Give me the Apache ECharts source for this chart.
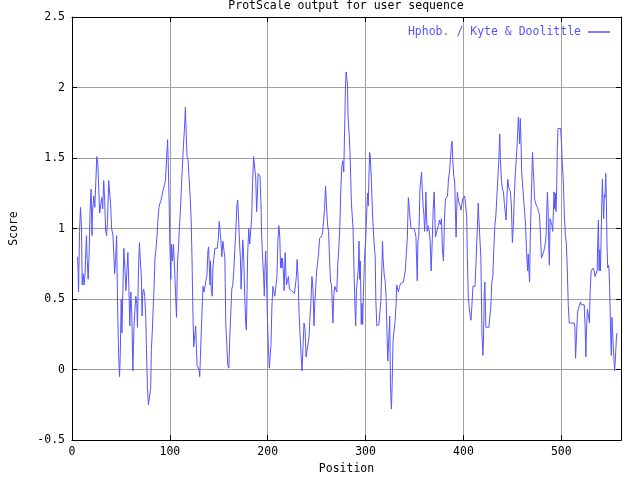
<!DOCTYPE html>
<html>
<head>
<meta charset="utf-8">
<script src="https://cdn.jsdelivr.net/npm/echarts@6/dist/echarts.min.js"></script>
<style>html,body{margin:0;padding:0;background:#fff}#c{width:640px;height:480px}</style>
</head>
<body>
<div id="c"></div>
<script>
const titleText = 'ProtScale output for user sequence';
const seriesName = 'Hphob. / Kyte & Doolittle';
const xName = 'Position';
const yName = 'Score';
const xMin = 0, xMax = 561, xStep = 100;
const yMin = -0.5, yMax = 2.5, yStep = 0.5;

const positions = [
5.7,6.3,6.7,7.7,8.7,9.7,10.4,11.4,12.4,13.4,13.8,14.8,15.5,16.5,17.5,18.5,19.5,20.5,20.9,22.2,
23.3,24.3,25.3,26.3,27.3,28.3,30.4,31.4,32.4,33.4,34.4,35.4,36.4,37.5,38.5,39.5,40.5,41.9,42.9,43.6,
44.6,45.6,46.6,47.6,48.6,49.3,50.3,51.0,52.0,53.0,54.0,55.1,56.1,57.1,58.1,59.1,60.1,61.1,62.2,63.2,
64.2,65.2,66.2,66.9,67.9,68.9,69.9,71.0,71.6,72.3,73.3,74.3,75.4,76.0,77.1,78.1,79.8,80.4,81.1,82.1,
82.8,83.8,84.8,85.9,86.9,87.9,88.9,89.9,90.9,91.9,
92.6,93.6,94.6,95.6,96.6,97.7,98.3,99.3,100.0,101.0,101.7,102.7,103.7,104.8,105.8,106.8,107.8,108.8,109.8,110.8,
111.9,112.9,113.9,114.9,115.9,116.6,117.6,118.6,119.6,120.7,121.7,122.7,123.4,124.4,125.4,126.4,127.1,127.8,128.8,129.8,
130.5,131.2,131.8,132.8,133.9,134.9,136.9,137.9,138.9,139.6,140.3,141.0,141.6,142.3,143.3,144.0,145.0,146.0,148.4,149.4,
150.4,151.5,152.1,153.1,154.2,155.2,156.2,157.2,158.2,159.2,160.3,161.3,162.3,163.3,164.3,165.3,166.3,167.4,168.4,169.4,
170.1,171.1,172.1,172.8,173.8,174.5,175.5,176.5,177.5,178.2,178.9,179.5,180.6,181.6,182.6,183.6,184.6,185.6,186.6,187.7,188.7,
189.4,190.1,191.1,192.1,193.1,193.8,194.8,195.8,196.5,197.2,197.9,198.6,199.6,200.6,201.6,202.6,203.3,204.3,205.3,206.3,
207.3,208.4,209.4,210.4,211.4,212.4,213.1,213.8,214.5,215.1,216.1,216.8,217.8,218.5,219.2,220.2,221.2,222.2,223.3,224.3,
225.3,226.3,227.3,228.3,229.3,230.0,231.0,232.1,233.1,234.1,235.1,236.1,237.1,238.1,239.2,240.2,241.2,242.2,243.2,244.2,
245.2,246.3,247.3,248.0,249.0,250.0,251.0,252.0,253.0,254.0,255.1,256.1,257.1,258.1,259.1,260.1,261.2,262.2,263.2,264.2,
265.2,265.9,266.6,267.6,268.6,269.6,270.6,271.6,272.7,273.7,274.7,275.7,276.7,277.7,278.8,279.4,280.1,280.8,281.5,282.1,
283.2,284.2,284.8,285.5,
286.2,287.2,288.2,289.2,289.9,290.6,291.6,292.6,293.3,293.9,294.6,295.6,296.3,297.0,297.7,298.7,299.4,300.0,301.0,302.0,
302.7,303.4,304.1,304.8,305.8,306.8,307.8,308.8,309.8,310.5,311.5,312.5,313.6,314.6,315.6,316.6,317.3,318.0,319.0,320.0,
321.0,322.0,322.7,323.7,324.7,325.4,326.4,327.1,328.1,329.1,330.1,331.2,331.8,332.9,333.5,334.5,335.6,336.6,337.6,338.6,
339.6,340.6,341.7,342.7,343.7,344.7,345.4,346.4,347.4,348.4,349.4,350.4,351.5,352.1,352.8,353.5,354.2,354.9,355.5,356.5,
357.2,357.9,358.9,359.6,360.3,360.9,361.6,362.3,363.0,364.0,365.0,366.0,367.0,368.2,369.1,370.1,370.8,371.4,372.4,373.5,
374.5,375.5,376.5,377.5,378.5,379.6,380.6,381.6,
382.7,383.7,384.7,385.7,386.7,387.7,388.4,389.1,390.1,391.1,391.8,392.5,393.1,393.8,394.5,395.5,396.5,397.5,398.6,399.2,
400.3,401.3,402.3,403.3,404.0,405.0,406.0,406.7,407.7,408.7,409.7,410.7,411.8,412.8,413.8,414.5,415.1,415.8,416.8,417.8,
418.9,419.9,420.6,421.2,421.9,422.9,423.9,424.9,426.0,427.0,428.0,429.0,430.0,431.0,432.1,433.1,434.1,435.1,436.1,437.1,
437.8,438.8,439.8,440.9,441.9,442.9,443.6,444.2,445.3,446.3,446.9,448.0,449.0,450.0,451.0,452.0,453.0,454.0,455.1,456.1,
456.8,457.4,458.1,458.8,459.5,460.5,461.5,462.5,463.5,464.5,465.6,466.2,466.9,467.6,468.3,
469.2,469.9,470.6,471.2,471.9,472.6,473.6,474.6,475.6,476.7,477.7,478.7,479.7,480.7,481.7,482.8,483.8,484.4,485.1,485.8,
486.5,487.1,487.8,488.5,489.2,489.9,490.5,491.2,491.9,492.6,493.2,493.9,494.6,495.3,495.9,496.6,498.0,499.3,500.3,501.0,
502.0,503.1,504.1,505.1,506.1,507.1,508.1,509.1,510.2,511.2,512.2,513.2,513.9,514.6,515.6,516.6,517.6,518.6,519.6,520.3,
521.3,522.3,523.4,524.4,525.1,525.7,526.7,527.8,528.8,529.4,530.5,531.5,532.5,533.5,534.5,535.5,536.6,537.2,537.9,538.6,
539.3,540.0,540.6,541.3,542.0,542.6,543.3,544.0,544.7,545.4,546.0,546.7,547.4,548.1,548.7,549.4,550.4,551.1,551.8,552.5,
553.1,553.8,554.5,555.2,555.8,556.5,557.2
];

const scores = [
0.80,0.69,0.55,0.98,1.15,1.01,0.60,0.68,0.60,0.68,0.78,0.95,0.78,0.64,0.82,1.13,1.28,0.95,1.11,1.23,
1.15,1.32,1.51,1.47,1.29,1.11,1.22,1.14,1.34,1.20,0.98,0.95,1.07,1.34,1.35,1.17,1.00,0.95,0.79,0.68,
0.79,0.95,0.45,0.11,-0.05,0.10,0.50,0.26,0.56,0.86,0.72,0.56,0.70,0.83,0.59,0.31,0.55,0.40,-0.01,0.28,
0.41,0.52,0.47,0.30,0.70,0.90,0.77,0.64,0.38,0.55,0.57,0.52,0.37,0.18,-0.13,-0.25,-0.25,-0.13,0.14,0.28,
0.41,0.57,0.79,0.86,0.95,1.07,1.15,1.18,1.20,1.23,
1.26,1.26,1.31,1.35,1.49,1.63,1.48,1.17,0.89,0.64,0.89,0.77,0.89,0.72,0.54,0.37,0.76,0.86,1.01,1.13,
1.31,1.45,1.59,1.71,1.86,1.69,1.51,1.49,1.36,1.23,1.08,0.77,0.46,0.16,0.17,0.31,0.17,0.03,0.03,0.00,
-0.05,0.08,0.21,0.40,0.59,0.55,0.55,0.67,0.84,0.87,0.74,0.60,0.77,0.56,0.52,0.72,0.79,0.86,0.86,0.92,
1.05,1.05,0.92,0.80,0.91,0.91,0.79,0.31,0.17,0.03,0.01,0.24,0.41,0.57,0.60,0.70,0.84,0.98,1.16,1.20,
1.09,0.91,0.79,0.57,0.76,0.92,0.79,0.52,0.33,0.28,0.56,0.82,1.00,0.89,0.90,1.08,1.34,1.51,1.51,1.36,1.12,
1.23,1.39,1.40,1.37,1.18,0.95,0.79,0.66,0.52,0.72,0.84,0.70,0.38,0.18,0.01,0.01,0.17,0.45,0.59,0.55,
0.52,0.52,0.66,0.91,1.02,0.93,0.72,0.79,0.72,0.79,0.68,0.56,0.83,0.70,0.60,0.63,0.66,0.57,0.57,0.56,
0.56,0.55,0.54,0.54,0.66,0.78,0.66,0.39,0.24,0.10,-0.01,0.17,0.33,0.29,0.09,0.09,0.10,0.23,0.37,0.49,
0.66,0.56,0.31,0.45,0.58,0.70,0.76,0.83,0.93,0.94,0.95,0.97,0.98,1.14,1.30,1.16,1.02,0.98,0.78,0.62,
0.60,0.47,0.33,0.54,0.59,0.59,0.55,0.75,0.87,1.01,1.28,1.44,1.48,1.40,1.78,1.99,2.11,2.07,2.02,1.79,
1.67,1.53,1.36,1.18,
1.18,1.00,0.70,0.44,0.31,0.55,0.56,0.72,0.91,0.64,0.77,0.32,0.47,0.32,0.52,0.75,0.86,0.89,1.09,1.25,
1.16,1.36,1.54,1.51,1.36,1.16,1.00,0.89,0.80,0.49,0.31,0.31,0.32,0.33,0.49,0.72,0.91,0.78,0.67,0.63,
0.51,0.23,0.06,0.22,0.38,-0.10,-0.28,-0.12,0.21,0.22,0.34,0.47,0.60,0.61,0.55,0.58,0.61,0.62,0.62,0.62,
0.66,0.70,0.83,0.94,1.22,1.22,1.22,1.00,1.00,1.00,1.00,0.98,0.94,0.78,0.63,0.91,0.93,1.07,1.28,1.28,
1.40,1.28,1.15,1.10,0.98,1.05,1.26,1.09,0.98,1.02,0.98,0.91,0.70,0.93,1.14,1.26,1.10,0.94,0.94,1.00,
1.02,1.06,1.03,1.07,0.85,0.77,1.07,1.21,
1.22,1.23,1.35,1.40,1.49,1.60,1.62,1.49,1.37,1.33,1.12,0.94,1.12,1.26,1.22,1.18,1.16,1.13,1.12,1.21,
1.22,1.23,1.23,1.09,0.79,0.51,0.43,0.39,0.35,0.46,0.59,0.59,0.59,0.75,0.93,1.07,1.18,1.07,1.06,0.79,
0.26,0.10,0.24,0.54,0.62,0.30,0.30,0.30,0.30,0.30,0.45,0.62,0.66,0.85,1.02,1.09,1.10,1.35,1.48,1.67,
1.49,1.35,1.28,1.26,1.17,1.16,1.06,1.18,1.35,1.29,1.30,1.26,1.16,0.90,1.02,1.23,1.39,1.49,1.63,1.79,
1.70,1.60,1.78,1.62,1.40,1.39,1.21,1.12,1.02,0.83,0.70,0.82,0.70,0.62,0.95,
1.18,1.37,1.54,1.44,1.35,1.22,1.18,1.18,1.15,1.12,1.10,0.95,0.79,0.78,0.83,0.86,0.90,0.95,1.10,1.26,
1.14,0.90,0.74,1.07,1.06,1.06,1.02,0.98,1.12,1.26,1.14,1.25,1.12,1.30,1.56,1.71,1.71,1.71,1.59,1.46,
1.35,1.10,0.95,0.90,0.72,0.46,0.33,0.33,0.33,0.33,0.33,0.33,0.30,0.08,0.25,0.41,0.41,0.41,0.48,0.46,
0.46,0.46,0.46,0.28,0.09,0.28,0.43,0.43,0.33,0.54,0.70,0.71,0.72,0.70,0.66,0.66,0.70,0.90,1.06,0.70,
0.85,0.70,0.89,1.17,1.35,1.20,1.07,1.24,1.22,1.39,1.22,0.89,0.72,0.74,0.72,0.59,0.25,0.10,0.37,0.36,
0.16,0.15,-0.01,-0.01,0.15,0.25,0.26
];

const lineColor = '#5555ff';
const fontFamily = '"DejaVu Sans Mono", "Liberation Mono", monospace';
const fs = 11.5;

const data = positions.map((p, i) => [p, scores[i]]);

const chart = echarts.init(document.getElementById('c'), null, {renderer: 'canvas'});
const tickStyle = {show: true, inside: true, length: 5, lineStyle: {color: '#000', width: 1}};
const axisLineStyle = {show: true, onZero: false, lineStyle: {color: '#000', width: 1}};
const labelStyle = {color: '#000', fontFamily: fontFamily, fontSize: fs};

chart.setOption({
  animation: false,
  backgroundColor: '#ffffff',
  title: {
    text: titleText, left: 346, top: 0, padding: 0, textAlign: 'center',
    textStyle: {fontFamily: fontFamily, fontSize: fs, fontWeight: 'normal', color: '#000'}
  },
  legend: {
    data: [{name: seriesName, icon: 'rect'}],
    right: 30, top: 26, padding: 0, align: 'right',
    itemWidth: 22, itemHeight: 1.5, itemGap: 0,
    textStyle: {fontFamily: fontFamily, fontSize: fs, color: lineColor, padding: [0, 2, 0, 0]}
  },
  grid: {left: 70, right: 19, top: 17, bottom: 29, containLabel: false},
  xAxis: [{
    type: 'value', min: xMin, max: xMax, interval: xStep, position: 'bottom',
    name: xName, nameLocation: 'middle', nameGap: 16,
    nameTextStyle: {fontFamily: fontFamily, fontSize: fs, color: '#000'},
    axisLine: axisLineStyle, axisTick: tickStyle,
    axisLabel: Object.assign({margin: 6, showMaxLabel: false,
      formatter: v => (v % xStep === 0 ? String(v) : '')}, labelStyle),
    splitLine: {show: true, lineStyle: {color: '#a0a0a0', width: 1}}
  }, {
    type: 'value', min: xMin, max: xMax, interval: xStep, position: 'top',
    axisLine: axisLineStyle, axisTick: tickStyle,
    axisLabel: {show: false}, splitLine: {show: false}
  }],
  yAxis: [{
    type: 'value', min: yMin, max: yMax, interval: yStep, position: 'left',
    name: yName, nameLocation: 'middle', nameGap: 52, nameRotate: 90,
    nameTextStyle: {fontFamily: fontFamily, fontSize: fs, color: '#000'},
    axisLine: axisLineStyle, axisTick: tickStyle,
    axisLabel: Object.assign({margin: 7}, labelStyle),
    splitLine: {show: true, lineStyle: {color: '#a0a0a0', width: 1}}
  }, {
    type: 'value', min: yMin, max: yMax, interval: yStep, position: 'right',
    axisLine: axisLineStyle, axisTick: tickStyle,
    axisLabel: {show: false}, splitLine: {show: false}
  }],
  series: [{
    name: seriesName, type: 'line', xAxisIndex: 0, yAxisIndex: 0,
    data: data, showSymbol: false, symbol: 'none',
    lineStyle: {color: lineColor, width: 1}, itemStyle: {color: lineColor},
    z: 3
  }]
});
</script>
</body>
</html>
